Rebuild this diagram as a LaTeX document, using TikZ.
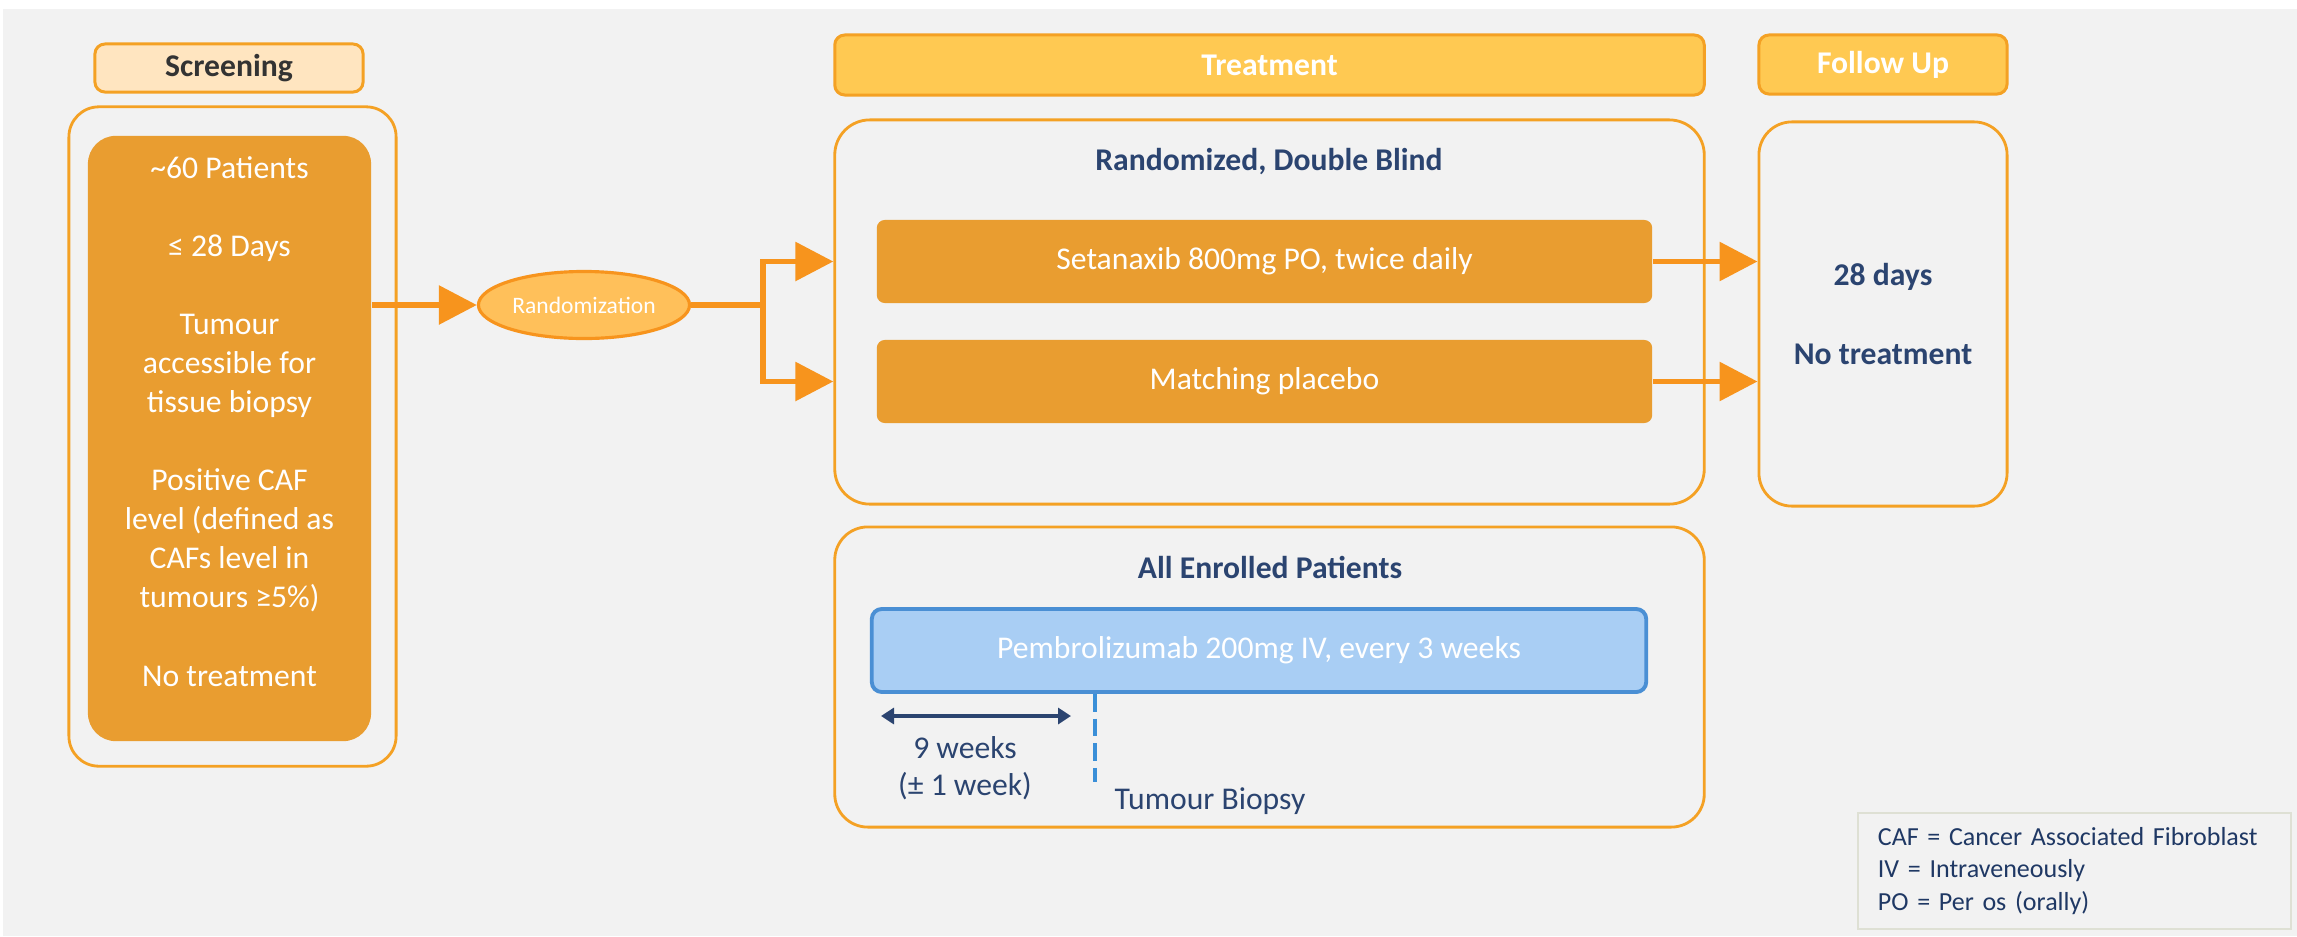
\documentclass[tikz,border=0pt]{standalone}
\usepackage{fontspec}
\setmainfont{Carlito}
\usetikzlibrary{arrows.meta,positioning,shapes.geometric}
\definecolor{bggray}{RGB}{242,242,242}
\definecolor{oline}{RGB}{244,161,36}
\definecolor{ofill}{RGB}{233,157,48}
\definecolor{oarrow}{RGB}{247,148,29}
\definecolor{peach}{RGB}{255,229,192}
\definecolor{gold}{RGB}{255,201,82}
\definecolor{ellfill}{RGB}{255,192,90}
\definecolor{navy}{RGB}{43,68,112}
\definecolor{legnavy}{RGB}{31,56,100}
\definecolor{pfill}{RGB}{169,206,244}
\definecolor{pline}{RGB}{74,143,212}
\definecolor{dashblue}{RGB}{58,143,216}
\definecolor{legline}{RGB}{222,224,212}
\definecolor{hdrtext}{RGB}{51,51,51}
\newcommand{\fnt}{\fontsize{9}{11.1}\selectfont}
\tikzset{
  hdr/.style={draw=oline, line width=0.85pt, fill=gold, rounded corners=0.1cm, text=white, font=\fnt\bfseries, inner sep=0pt},
  frame/.style={draw=oline, line width=0.8pt, rounded corners=0.33cm, inner sep=0pt},
  obox/.style={fill=ofill, rounded corners=0.08cm, text=white, font=\fnt, inner sep=0pt},
  wtxt/.style={font=\fnt, text=white, align=center, inner sep=0pt},
  ttl/.style={font=\fnt\bfseries, text=navy, align=center, inner sep=0pt},
  ntxt/.style={font=\fnt, text=navy, align=center, inner sep=0pt},
  oarr/.style={-{Triangle[length=3.8mm, width=3.8mm]}, oarrow, line width=1.7pt},
  warr/.style={{Triangle[length=1.3mm, width=1.6mm]}-{Triangle[length=1.3mm, width=1.6mm]}, navy, line width=1.1pt},
}
\begin{document}
\begin{tikzpicture}[x=0.01cm, y=-0.01cm]
  \useasboundingbox (0,0) rectangle (2297,936);
  \fill[bggray] (3,9) rectangle (2297,936);
  \node[hdr, fill=peach, text=hdrtext, minimum width=2.68cm, minimum height=0.48cm] (scrhead) at (229,68) {Screening};
  \node[hdr, minimum width=8.69cm, minimum height=0.60cm] (trthead) at (1269.5,65) {Treatment};
  \node[hdr, minimum width=2.48cm, minimum height=0.59cm] (fuhead) at (1883,64.5) {Follow Up};
  \node[frame, rounded corners=0.3cm, minimum width=3.27cm, minimum height=6.59cm] (scrout) at (232.5,436.5) {};
  \node[obox, rounded corners=0.28cm, minimum width=2.83cm, minimum height=6.05cm] (scrin) at (229.5,438.5) {};
  \node[wtxt] (scrtxt) at (229.5,421.5) {\textasciitilde60 Patients\\[11.1pt] ≤ 28 Days\\[11.1pt] Tumour\\accessible for\\tissue biopsy\\[11.1pt] Positive CAF\\level (defined as\\CAFs level in\\tumours ≥5\%)\\[11.1pt] No treatment};
  \node[ellipse, draw=oarrow, line width=0.9pt, fill=ellfill, minimum width=2.11cm, minimum height=0.67cm, inner sep=0pt, text=white, font=\fontsize{6.7}{8}\selectfont] (rand) at (584,305) {Randomization};
  \node[frame, rounded corners=0.35cm, minimum width=8.69cm, minimum height=3.84cm] (randbox) at (1269.5,312) {};
  \node[ttl] (randttl) at (1269,162) {Randomized, Double Blind};
  \node[obox, minimum width=7.75cm, minimum height=0.83cm] (seta) at (1264.5,261.5) {Setanaxib 800mg PO, twice daily};
  \node[obox, minimum width=7.75cm, minimum height=0.83cm] (plac) at (1264.5,381.5) {Matching placebo};
  \node[frame, minimum width=2.48cm, minimum height=3.84cm] (fubox) at (1883,314) {};
  \node[ttl] (futxt) at (1883,314) {28 days\\[11.1pt]No treatment};
  \node[frame, minimum width=8.69cm, minimum height=3.00cm] (allbox) at (1269.5,677) {};
  \node[ttl] (allttl) at (1270,567) {All Enrolled Patients};
  \node[draw=pline, line width=1.1pt, fill=pfill, rounded corners=0.1cm, minimum width=7.74cm, minimum height=0.83cm, text=white, font=\fnt, inner sep=0pt] (pembro) at (1259,650.5) {Pembrolizumab 200mg IV, every 3 weeks};
  \coordinate (split) at (763,305);
  \coordinate (biop) at (1095,782);
  \coordinate (wkl) at (881,716);
  \coordinate (wkr) at (1071,716);
  \draw[oarr] (scrin.east |- rand) -- (rand.west);
  \draw[oarr] (rand.east) -- (split) |- (randbox.west |- seta);
  \draw[oarr] (split) |- (randbox.west |- plac);
  \draw[oarr] (seta.east) -- (fubox.west |- seta);
  \draw[oarr] (plac.east) -- (fubox.west |- plac);
  \draw[dashblue, line width=1.1pt, dash pattern=on 5pt off 2pt] (pembro.south -| biop) -- (biop);
  \draw[warr] (wkl) -- (wkr);
  \node[ntxt, font=\fontsize{9}{10.5}\selectfont] (wk) at (965,768) {9 weeks\\(± 1 week)};
  \node[ntxt, below right=0.05cm and 0.19cm of biop] (biopsy) {Tumour Biopsy};
  \node[draw=legline, line width=0.6pt, fill=bggray, minimum width=4.33cm, minimum height=1.16cm, inner xsep=0.2cm, text width=3.93cm, align=left, text=legnavy, font=\fontsize{7.4}{9.3}\selectfont] (legend) at (2074.5,871) {CAF = Cancer Associated Fibroblast\\IV = Intraveneously\\PO = Per os (orally)};
\end{tikzpicture}
\end{document}
